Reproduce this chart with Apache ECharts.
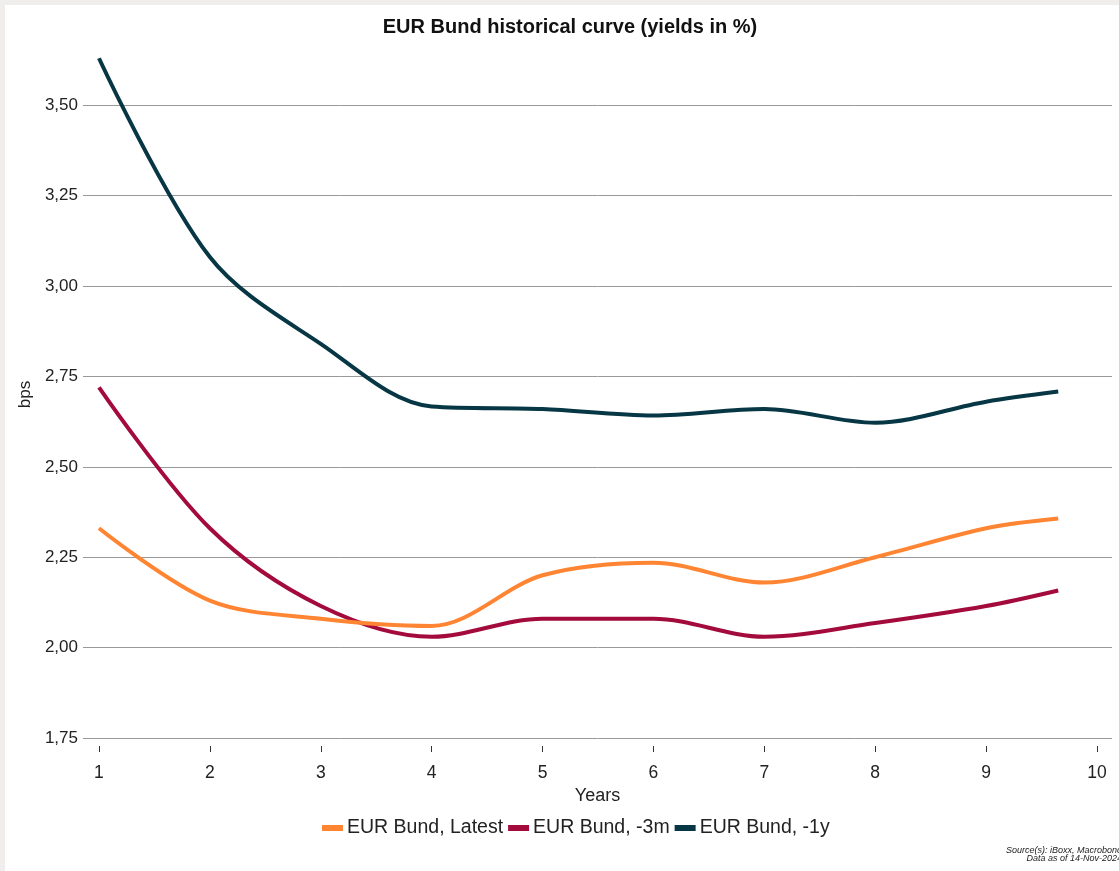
<!DOCTYPE html>
<html>
<head>
<meta charset="utf-8">
<script src="https://cdn.jsdelivr.net/npm/echarts@6/dist/echarts.min.js"></script>
<style>
html,body{margin:0;padding:0;background:#efeeec;width:1119px;height:871px;overflow:hidden;}
#c{position:absolute;left:5px;top:5px;width:1114px;height:866px;background:#fff;}
</style>
</head>
<body>
<div id="c"></div>
<script>
const years = [1, 2, 3, 4, 5, 6, 7, 8, 9, 9.65];
const latest = [2.33, 2.13, 2.08, 2.06, 2.20, 2.235, 2.18, 2.25, 2.33, 2.357];
const minus3m = [2.72, 2.33, 2.115, 2.03, 2.08, 2.08, 2.03, 2.068, 2.115, 2.158];
const minus1y = [3.63, 3.08, 2.84, 2.667, 2.66, 2.642, 2.66, 2.622, 2.68, 2.708];
const xTicks = [1, 2, 3, 4, 5, 6, 7, 8, 9, 10];
const seriesNames = ['EUR Bund, Latest', 'EUR Bund, -3m', 'EUR Bund, -1y'];
const colors = ['#ff8533', '#a30b3d', '#073644'];

const pair = arr => years.map((x, i) => [x, arr[i]]);
const font = 'Liberation Sans, Arial, sans-serif';
const SMOOTH = 0.33;

const chart = echarts.init(document.getElementById('c'));
chart.setOption({
  animation: false,
  textStyle: { fontFamily: font },
  legend: {
    top: 808,
    left: 312,
    itemWidth: 21,
    itemHeight: 6,
    itemGap: 5,
    icon: 'rect',
    textStyle: { fontSize: 19.5, color: '#222', fontFamily: font, padding: [0, 0, 0, -1] },
    data: seriesNames
  },
  grid: { left: 78, right: 7, top: 46, bottom: 133, containLabel: false, outerBoundsMode: 'none' },
  xAxis: {
    type: 'value',
    min: 0.856,
    max: 10.135,
    offset: 8,
    name: 'Years',
    nameLocation: 'middle',
    nameGap: 39,
    nameTextStyle: { fontSize: 18, color: '#222' },
    axisLine: { show: false },
    axisTick: { show: true, length: 6, customValues: xTicks, lineStyle: { color: '#333', width: 1 } },
    axisLabel: { customValues: xTicks, fontSize: 17.5, color: '#222', margin: 18 },
    splitLine: { show: false }
  },
  yAxis: {
    type: 'value',
    min: 1.75,
    max: 3.65,
    interval: 0.25,
    name: 'bps',
    nameLocation: 'middle',
    nameGap: 47,
    nameTextStyle: { fontSize: 17, color: '#222' },
    axisLine: { show: false },
    axisTick: { show: false },
    axisLabel: {
      fontSize: 17, color: '#222', margin: 5, showMaxLabel: false,
      formatter: v => v.toFixed(2).replace('.', ',')
    },
    splitLine: { show: true, showMaxLine: false, lineStyle: { color: '#999', width: 1 } }
  },
  series: [
    { name: seriesNames[0], type: 'line', data: pair(latest), smooth: SMOOTH, symbol: 'none', lineStyle: { width: 4, color: colors[0] }, itemStyle: { color: colors[0] }, z: 3 },
    { name: seriesNames[1], type: 'line', data: pair(minus3m), smooth: SMOOTH, symbol: 'none', lineStyle: { width: 4, color: colors[1] }, itemStyle: { color: colors[1] }, z: 2 },
    { name: seriesNames[2], type: 'line', data: pair(minus1y), smooth: SMOOTH, symbol: 'none', lineStyle: { width: 4, color: colors[2] }, itemStyle: { color: colors[2] }, z: 2 }
  ],
  graphic: [
    { type: 'text', x: 565, y: 22, style: { text: 'EUR Bund historical curve (yields in %)', fontSize: 20, fontWeight: 'bold', fill: '#111', align: 'center', verticalAlign: 'middle', fontFamily: font } },
    { type: 'text', x: 1117, y: 845, style: { text: 'Source(s): iBoxx, Macrobond', fontSize: 9, fontStyle: 'italic', fill: '#222', align: 'right', verticalAlign: 'middle', fontFamily: font } },
    { type: 'text', x: 1117, y: 853, style: { text: 'Data as of 14-Nov-2024', fontSize: 9, fontStyle: 'italic', fill: '#222', align: 'right', verticalAlign: 'middle', fontFamily: font } }
  ]
});
</script>
</body>
</html>
